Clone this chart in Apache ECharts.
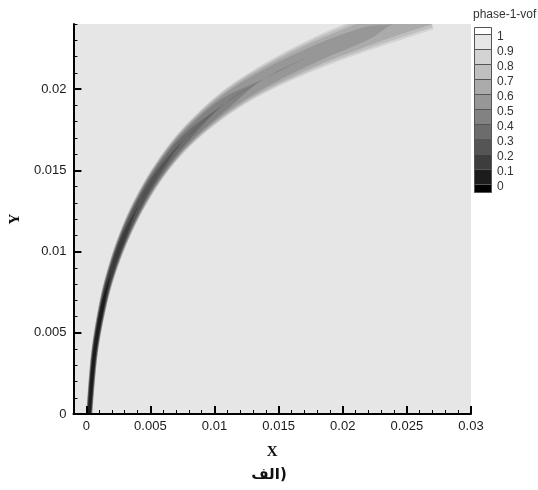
<!DOCTYPE html>
<html>
<head>
<meta charset="utf-8">
<script src="https://cdn.jsdelivr.net/npm/echarts@6/dist/echarts.min.js"></script>
<style>
  html, body { margin: 0; padding: 0; background: #fff; }
  #chart { width: 538px; height: 490px; }
</style>
</head>
<body>
<div id="chart"></div>
<script>
// centreline of the jet (m)
const pathX = [0.0002, 0.00023, 0.00064, 0.00132, 0.00201, 0.00294, 0.00416, 0.00573, 0.00783, 0.01079, 0.01387, 0.01781, 0.02173, 0.02394, 0.02665];
const pathY = [-0.0006, 0, 0.00375, 0.00682, 0.00887, 0.01091, 0.01296, 0.0150, 0.01704, 0.01909, 0.02063, 0.02216, 0.02339, 0.0240, 0.0247];
// local jet thickness (m, measured on the x scale) and lowest vof on the centreline
const jetWidth = [0.0005, 0.0005, 0.00055, 0.00065, 0.00075, 0.0009, 0.00105, 0.0012, 0.0015, 0.0019, 0.0022, 0.0026, 0.0029, 0.003, 0.003];
const coreVof = [0, 0, 0.02, 0.05, 0.1, 0.15, 0.22, 0.28, 0.36, 0.44, 0.5, 0.55, 0.58, 0.6, 0.6];

// contour levels (drawn from the outside in)
const levelEdges = [0.9, 0.8, 0.7, 0.6, 0.5, 0.4, 0.3, 0.2, 0.1];

const legendLabels = ['1', '0.9', '0.8', '0.7', '0.6', '0.5', '0.4', '0.3', '0.2', '0.1', '0'];
const legendColors = ['#ffffff', '#e6e6e6', '#d3d3d3', '#bfbfbf', '#ababab', '#979797', '#828282', '#6c6c6c', '#555555', '#3d3d3d', '#1c1c1c', '#000000'];

const xTicks = [0, 0.005, 0.01, 0.015, 0.02, 0.025, 0.03];
const yTicks = [0, 0.005, 0.01, 0.015, 0.02];

const chart = echarts.init(document.getElementById('chart'));

// minor ticks every 0.001 between the labelled ones
function minorTicks(maxMilli) {
    const out = [];
    for (let i = 1; i <= maxMilli; i++) {
        if (i % 5 !== 0) out.push(i / 1000);
    }
    return out;
}
const xMinor = minorTicks(29);
const yMinor = minorTicks(24);

function levelColor(edge) {
    return legendColors[Math.round((1 - edge) * 10) + 1];
}

// catmull-rom through the pixel points so the edges come out round
function spline(pts, steps) {
    const out = [];
    for (let i = 0; i < pts.length - 1; i++) {
        const p0 = pts[Math.max(i - 1, 0)];
        const p1 = pts[i];
        const p2 = pts[i + 1];
        const p3 = pts[Math.min(i + 2, pts.length - 1)];
        for (let s = 0; s < steps; s++) {
            const t = s / steps, t2 = t * t, t3 = t2 * t;
            out.push([0, 1].map((k) => 0.5 * (2 * p1[k] + (p2[k] - p0[k]) * t +
                (2 * p0[k] - 5 * p1[k] + 4 * p2[k] - p3[k]) * t2 +
                (3 * p1[k] - p0[k] - 3 * p2[k] + p3[k]) * t3)));
        }
    }
    out.push(pts[pts.length - 1]);
    return out;
}

function renderBand(params, api) {
    const edge = levelEdges[params.dataIndex];
    const pts = pathX.map((x, i) => api.coord([x, pathY[i]]));
    const left = [];
    const right = [];
    pts.forEach((p, i) => {
        const a = pts[Math.max(i - 1, 0)];
        const b = pts[Math.min(i + 1, pts.length - 1)];
        const dx = b[0] - a[0];
        const dy = b[1] - a[1];
        const len = Math.hypot(dx, dy) || 1;
        const nx = -dy / len;
        const ny = dx / len;
        const half = api.size([jetWidth[i], 0])[0] / 2;
        const depth = Math.max(0, (edge - coreVof[i]) / (1 - coreVof[i]));
        const r = half * Math.pow(depth, 1 / 3);
        left.push([p[0] + nx * r, p[1] + ny * r]);
        right.push([p[0] - nx * r, p[1] - ny * r]);
    });
    return {
        type: 'polygon',
        shape: { points: spline(left, 8).concat(spline(right, 8).reverse()) },
        style: { fill: levelColor(edge), stroke: null }
    };
}

// legend boxes + labels, Tecplot style
const boxX = 474, boxW = 17, boxTop = 27, capH = 7, boxH = 15;
const legendItems = [{
    type: 'text', left: 473, top: 9,
    style: { text: 'phase-1-vof', fill: '#333', font: '12px "Liberation Sans", Arial, sans-serif' }
}];
legendColors.forEach((c, i) => {
    const y = i === 0 ? boxTop : boxTop + capH + (i - 1) * boxH;
    const h = i === 0 ? capH : (i === legendColors.length - 1 ? 8 : boxH);
    legendItems.push({
        type: 'rect',
        shape: { x: boxX + 0.5, y: y + 0.5, width: boxW, height: h },
        style: { fill: c, stroke: '#555', lineWidth: 1 }
    });
});
legendLabels.forEach((t, i) => {
    legendItems.push({
        type: 'text',
        x: 497, y: boxTop + capH + i * boxH + 3,
        style: {
            text: t, fill: '#333', verticalAlign: 'middle',
            font: '12px "Liberation Sans", Arial, sans-serif'
        }
    });
});

const labelFont = { fontFamily: 'Liberation Sans', fontSize: 13, color: '#1a1a1a' };
const nameFont = { fontFamily: 'Liberation Serif', fontSize: 15, fontWeight: 'bold', color: '#111' };
const axisBase = { type: 'value', splitLine: { show: false }, z: 3 };

chart.setOption({
    animation: false,
    title: {
        text: 'الف)',
        left: 'center',
        top: 463,
        textStyle: { fontFamily: 'DejaVu Sans', fontSize: 15, fontWeight: 'bold', color: '#111' }
    },
    grid: {
        left: 69, right: 67, top: 24, bottom: 76,
        show: true, backgroundColor: '#e6e6e6', borderWidth: 0
    },
    xAxis: [
        {
            ...axisBase,
            position: 'bottom',
            min: -0.001, max: 0.03,
            name: 'X', nameLocation: 'middle', nameGap: 31, nameTextStyle: nameFont,
            axisLine: { onZero: false, lineStyle: { color: '#000', width: 2 } },
            axisTick: { customValues: xTicks, inside: true, length: 8, lineStyle: { color: '#000', width: 2 } },
            axisLabel: { customValues: xTicks, margin: 6, ...labelFont }
        },
        {
            ...axisBase,
            position: 'bottom',
            min: -0.001, max: 0.03,
            axisLine: { show: false, onZero: false },
            axisTick: { customValues: xMinor, inside: true, length: 4, lineStyle: { color: '#000', width: 1 } },
            axisLabel: { show: false }
        }
    ],
    yAxis: [
        {
            ...axisBase,
            position: 'left',
            min: 0, max: 0.024,
            name: 'Y', nameLocation: 'middle', nameGap: 47, nameTextStyle: nameFont,
            axisLine: { onZero: false, lineStyle: { color: '#000', width: 2 } },
            axisTick: { customValues: yTicks, inside: true, length: 8, lineStyle: { color: '#000', width: 2 } },
            axisLabel: { customValues: yTicks, margin: 7, ...labelFont }
        },
        {
            ...axisBase,
            position: 'left',
            min: 0, max: 0.024,
            axisLine: { show: false, onZero: false },
            axisTick: { customValues: yMinor, inside: true, length: 4, lineStyle: { color: '#000', width: 1 } },
            axisLabel: { show: false }
        }
    ],
    graphic: legendItems,
    series: [
        {
            type: 'custom',
            name: 'phase-1-vof',
            xAxisIndex: 0,
            yAxisIndex: 0,
            clip: true,
            z: 1,
            silent: true,
            renderItem: renderBand,
            data: levelEdges.map((v) => [v])
        }
    ]
});
</script>
</body>
</html>
